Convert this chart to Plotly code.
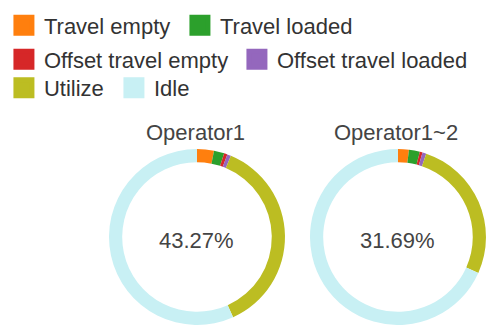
import plotly.graph_objects as go

categories = ["Travel empty", "Travel loaded", "Offset travel empty",
              "Offset travel loaded", "Utilize", "Idle"]
operator1_values = [3.1, 1.9, 0.6, 0.7, 36.97, 56.73]
operator12_values = [2.0, 2.0, 0.5, 0.7, 26.49, 68.31]
chart_titles = ["Operator1", "Operator1~2"]
center_labels = ["43.27%", "31.69%"]

colors = ["#ff7f0e", "#2ca02c", "#d62728", "#9467bd", "#bcbd22", "#c8f0f4"]
legend_rows = ["legend", "legend", "legend2", "legend2", "legend3", "legend3"]
FONT = "Arial"
FS = 22

fig = go.Figure()
domains = [dict(x=[0.2215, 0.5793], y=[0.0, 0.5415]),
           dict(x=[0.630, 0.9878], y=[0.0, 0.5415])]
for i, vals in enumerate([operator1_values, operator12_values]):
    fig.add_trace(go.Pie(
        labels=categories, values=vals, hole=0.85, sort=False,
        direction="clockwise", rotation=0,
        marker=dict(colors=colors, line=dict(width=0)),
        textinfo="none", hoverinfo="label+percent",
        domain=domains[i], showlegend=False,
    ))
    cx = (domains[i]["x"][0] + domains[i]["x"][1]) / 2
    fig.add_annotation(x=cx, y=(325 - 240) / 325, xref="paper", yref="paper",
                       text=center_labels[i], showarrow=False,
                       xanchor="center", yanchor="middle",
                       font=dict(size=FS, color="#444", family=FONT))
    fig.add_annotation(x=cx - 0.004, y=(325 - 133) / 325, xref="paper", yref="paper",
                       text=chart_titles[i], showarrow=False,
                       xanchor="center", yanchor="middle",
                       font=dict(size=FS, color="#444", family=FONT))

# legend entries (one per category, drawn in the library's legend)
for cat, col, lg in zip(categories, colors, legend_rows):
    fig.add_trace(go.Scatter(
        x=[None], y=[None], mode="markers", name=cat, legend=lg,
        marker=dict(symbol="square", size=16, color=col,
                    line=dict(width=5, color=col)),
        showlegend=True, hoverinfo="skip",
    ))

leg_common = dict(orientation="h", xanchor="left", yanchor="middle",
                  font=dict(size=FS, color="#333", family=FONT),
                  itemsizing="trace", bgcolor="rgba(0,0,0,0)")
fig.update_layout(
    width=492, height=325,
    margin=dict(l=0, r=0, t=0, b=0),
    paper_bgcolor="white", plot_bgcolor="white",
    xaxis=dict(visible=False), yaxis=dict(visible=False),
    legend=dict(x=0.008, y=1 - 25.5 / 325, entrywidth=131, **leg_common),
    legend2=dict(x=0.008, y=1 - 59.5 / 325, entrywidth=188, **leg_common),
    legend3=dict(x=0.008, y=1 - 88 / 325, entrywidth=65, **leg_common),
)
fig.write_html("out.html")
